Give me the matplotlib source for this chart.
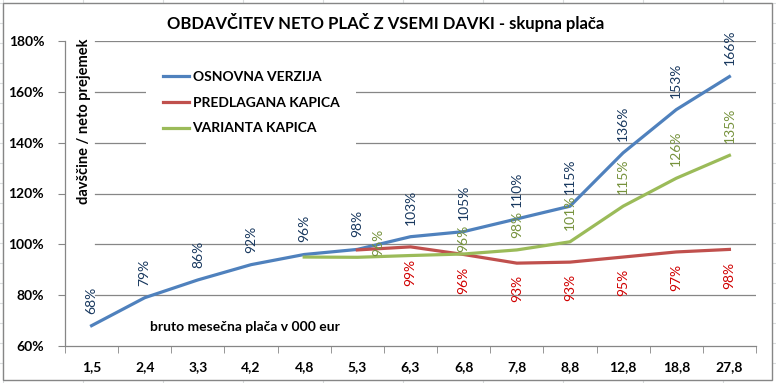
import numpy as np
import matplotlib
matplotlib.use("Agg")
import matplotlib.pyplot as plt
from matplotlib.patches import Rectangle
from matplotlib.lines import Line2D

plt.rcParams["font.family"] = ["Lato", "DejaVu Sans"]

# data
categories = ["1,5", "2,4", "3,3", "4,2", "4,8", "5,3", "6,3", "6,8", "7,8", "8,8", "12,8", "18,8", "27,8"]
osnovna = [68, 79, 86, 92, 96, 98, 103, 105, 110, 115, 136, 153, 166]
predlagana = [None, None, None, None, None, 97.8, 99, 96, 92.6, 93, 95, 97, 98]
varianta = [None, None, None, None, 95, 94.9, 95.6, 96.2, 97.8, 101, 115, 126, 135]
yticks = [60, 80, 100, 120, 140, 160, 180]

blue = "#4F81BD"
red = "#C0504D"
green = "#9BBB59"
grid_col = "#868686"

W, H = 776, 383
fig = plt.figure(figsize=(W / 100, H / 100), dpi=100)

# spreadsheet cell lines behind the chart object
for xc in range(3, W, 80):
    fig.add_artist(Line2D([xc / W, xc / W], [0, 1], color="#dadcdd", lw=0.8, zorder=-3))
for yc in range(3, H, 20):
    fig.add_artist(Line2D([0, 1], [1 - yc / H, 1 - yc / H], color="#dadcdd", lw=0.8, zorder=-3))
fig.add_artist(Rectangle((3 / W, 1 - 380 / H), 769 / W, 377 / H, transform=fig.transFigure,
                         facecolor="white", edgecolor=grid_col, lw=1.0, zorder=-2))

ax = fig.add_axes([65 / W, 1 - 346 / H, 691 / W, 305 / H])
ax.set_facecolor("none")
x = np.arange(len(categories))


def to_arr(v):
    return np.array([np.nan if a is None else a for a in v], dtype=float)


s_blue = to_arr(osnovna)
s_red = to_arr(predlagana)
s_green = to_arr(varianta)

for yv in yticks[1:]:
    ax.axhline(yv, xmin=30 / 691, xmax=1, color=grid_col, lw=0.9, zorder=1)

ax.plot(x, s_blue, color=blue, lw=2.3, label="OSNOVNA VERZIJA", zorder=3)
ax.plot(x, s_red, color=red, lw=2.3, label="PREDLAGANA KAPICA", zorder=3)
ax.plot(x, s_green, color=green, lw=2.3, label="VARIANTA KAPICA", zorder=3)

px = 72 / 100  # one pixel in points
lab_kw = dict(rotation=90, ha="center", fontsize=10, textcoords="offset points", zorder=4)
for i, v in enumerate(s_blue):
    ax.annotate(f"{v:.0f}%", (x[i], v), xytext=(0, 12 * px), va="bottom", color="#17375E", **lab_kw)
for i, v in enumerate(s_red):
    if np.isnan(v) or i == 5:
        continue
    ax.annotate(f"{v:.0f}%", (x[i], v), xytext=(0, -12 * px), va="top", color="#D00000", **lab_kw)
# two green labels were dragged by hand in the original
green_shift = {6: (-32, 0), 7: (0, 2)}
for i, v in enumerate(s_green):
    if np.isnan(v) or i < 6:
        continue
    dx, dy = green_shift.get(i, (0, 12))
    ax.annotate(f"{v:.0f}%", (x[i], v), xytext=(dx * px, dy * px), va="bottom", color="#76923C", **lab_kw)

ax.set_xlim(-0.5, len(categories) - 0.5)
ax.set_ylim(60, 180)
ax.set_yticks(yticks)
ax.set_yticklabels([f"{t}%" for t in yticks], fontweight="bold", fontsize=10)
ax.set_xticks(x)
ax.set_xticklabels(categories, fontweight="bold", fontsize=10)
ax.set_xticks(np.arange(-0.5, len(categories)), minor=True)
ax.tick_params(axis="x", which="major", length=0, pad=11)
ax.tick_params(axis="x", which="minor", length=5, color=grid_col, direction="out")
ax.tick_params(axis="y", length=5, color=grid_col, pad=10)
for sp in ["top", "right"]:
    ax.spines[sp].set_visible(False)
for sp in ["left", "bottom"]:
    ax.spines[sp].set_color(grid_col)
    ax.spines[sp].set_linewidth(0.9)

leg = ax.legend(loc="upper left", bbox_to_anchor=(146 / W, 1 - 54 / H), bbox_transform=fig.transFigure,
                prop={"weight": "bold", "size": 10}, handlelength=1.9, handletextpad=0.25,
                labelspacing=1.0, borderpad=1.2, borderaxespad=0, fancybox=False)
leg.get_frame().set_facecolor("white")
leg.get_frame().set_edgecolor("none")
leg.get_frame().set_alpha(1)

fig.text(386 / W, 1 - 22 / H, "OBDAVČITEV NETO PLAČ Z VSEMI DAVKI - skupna plača",
         ha="center", va="center", fontsize=12, fontweight="bold")
fig.text(84 / W, 1 - 121 / H, "davščine / neto prejemek", rotation=90, ha="center", va="center",
         fontsize=10.5, fontweight="bold")
fig.text(245 / W, 1 - 327 / H, "bruto mesečna plača v 000 eur", ha="center", va="center",
         fontsize=10, fontweight="bold")

fig.savefig("out.png", dpi=100)
